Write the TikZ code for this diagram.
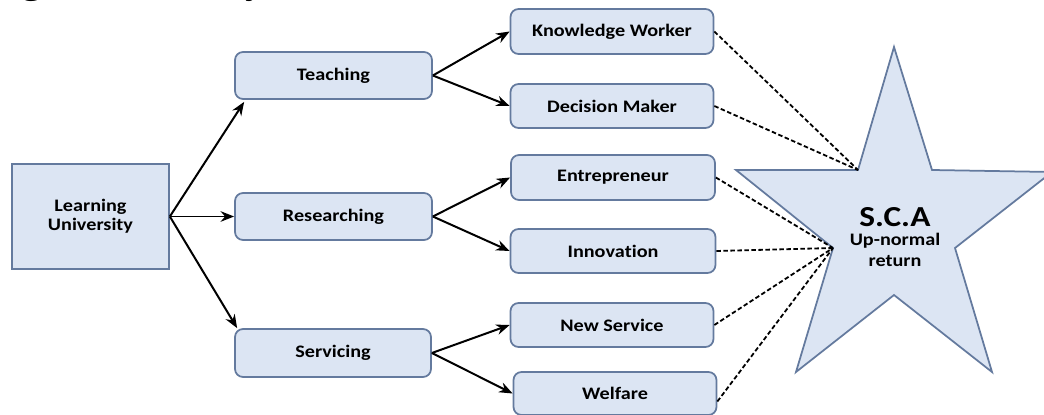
\documentclass[tikz,border=0pt]{standalone}
\usepackage{fontspec}
\setmainfont{Carlito}[FakeStretch=1.15, Ligatures=NoCommon]
\newfontfamily\capfont{Liberation Serif}
\usetikzlibrary{arrows.meta}
\definecolor{boxfill}{RGB}{220,229,243}
\definecolor{boxline}{RGB}{100,122,158}
\tikzset{
  rbox/.style={draw=boxline, fill=boxfill, line width=0.035cm, rounded corners=0.16cm,
    font=\bfseries\fontsize{10}{11}\selectfont, inner sep=0pt, align=center},
  sbox/.style={draw=boxline, fill=boxfill, line width=0.035cm,
    font=\bfseries\fontsize{10}{11}\selectfont, inner sep=0pt, align=center},
  arr/.style={draw=black, line width=0.04cm, -{Stealth[length=0.27cm,width=0.21cm]}},
  dsh/.style={draw=black, line width=0.036cm, dash pattern=on 0.09cm off 0.05cm},
  starshape/.style={draw=boxline, fill=boxfill, line width=0.035cm, line join=miter},
  captext/.style={anchor=base, inner sep=0pt, font=\capfont\fontsize{24}{24}\selectfont}
}
\begin{document}
\begin{tikzpicture}[x=0.02cm,y=-0.02cm]
\path[use as bounding box, clip] (0,0) rectangle (1044,415);
\fill[white] (0,0) rectangle (1044,415);
% cropped caption fragments
\node[captext] (capg) at (32,-7) {g};
\node[captext] (capy) at (256,-7) {y};
% star
\draw[starshape] (894,47) -- (932,170) -- (1052,172) -- (955,248) -- (992,372)
  -- (894,295) -- (796,372) -- (833,248) -- (736,170) -- (858,170) -- cycle;
\coordinate (sUL) at (858,170);
\coordinate (sLI) at (833,248);
\node[align=center, inner sep=0pt, font=\bfseries] (sca) at (895,237)
  {\fontsize{16.5}{17}\selectfont S.C.A\\[-1pt]
   \fontsize{10}{9.5}\selectfont Up-normal\\ \fontsize{10}{9.5}\selectfont return};
% boxes
\node[sbox, minimum width=3.14cm, minimum height=2.1cm] (lu) at (90.5,216.5) {Learning\\University};
\node[rbox, minimum width=3.94cm, minimum height=0.94cm] (teach) at (333.5,75.5) {Teaching};
\node[rbox, minimum width=3.94cm, minimum height=0.94cm] (res) at (333.5,216.5) {Researching};
\node[rbox, minimum width=3.92cm, minimum height=0.96cm] (serv) at (333,353) {Servicing};
\node[rbox, minimum width=4.06cm, minimum height=0.9cm] (kw) at (612,31.5) {Knowledge Worker};
\node[rbox, minimum width=4.06cm, minimum height=0.88cm] (dm) at (612,106) {Decision Maker};
\node[rbox, minimum width=4.08cm, minimum height=0.9cm] (ent) at (613,177.5) {Entrepreneur};
\node[rbox, minimum width=4.1cm, minimum height=0.88cm] (inn) at (613,251) {Innova\kern0pt tion};
\node[rbox, minimum width=4.06cm, minimum height=0.88cm] (ns) at (612,325) {New Service};
\node[rbox, minimum width=4.06cm, minimum height=0.86cm] (welf) at (615,393.5) {Welfare};
% arrows
\draw[arr] (lu.east) -- ([xshift=0.2cm,yshift=-0.04cm]teach.south west);
\draw[arr] (lu.east) -- (res.west);
\draw[arr] (lu.east) -- ([xshift=0.06cm]serv.north west);
\draw[arr] (teach.east) -- (kw.west);
\draw[arr] (teach.east) -- (dm.west);
\draw[arr] (res.east) -- (ent.west);
\draw[arr] (res.east) -- (inn.west);
\draw[arr] (serv.east) -- (ns.west);
\draw[arr] (serv.east) -- (welf.west);
% dashed connectors
\draw[dsh] (kw.east) -- (sUL);
\draw[dsh] (dm.east) -- (sUL);
\draw[dsh] (ent.east) -- (sLI);
\draw[dsh] (inn.east) -- (sLI);
\draw[dsh] (ns.east) -- (sLI);
\draw[dsh] ([yshift=-0.16cm]welf.east) -- (sLI);
\end{tikzpicture}
\end{document}
